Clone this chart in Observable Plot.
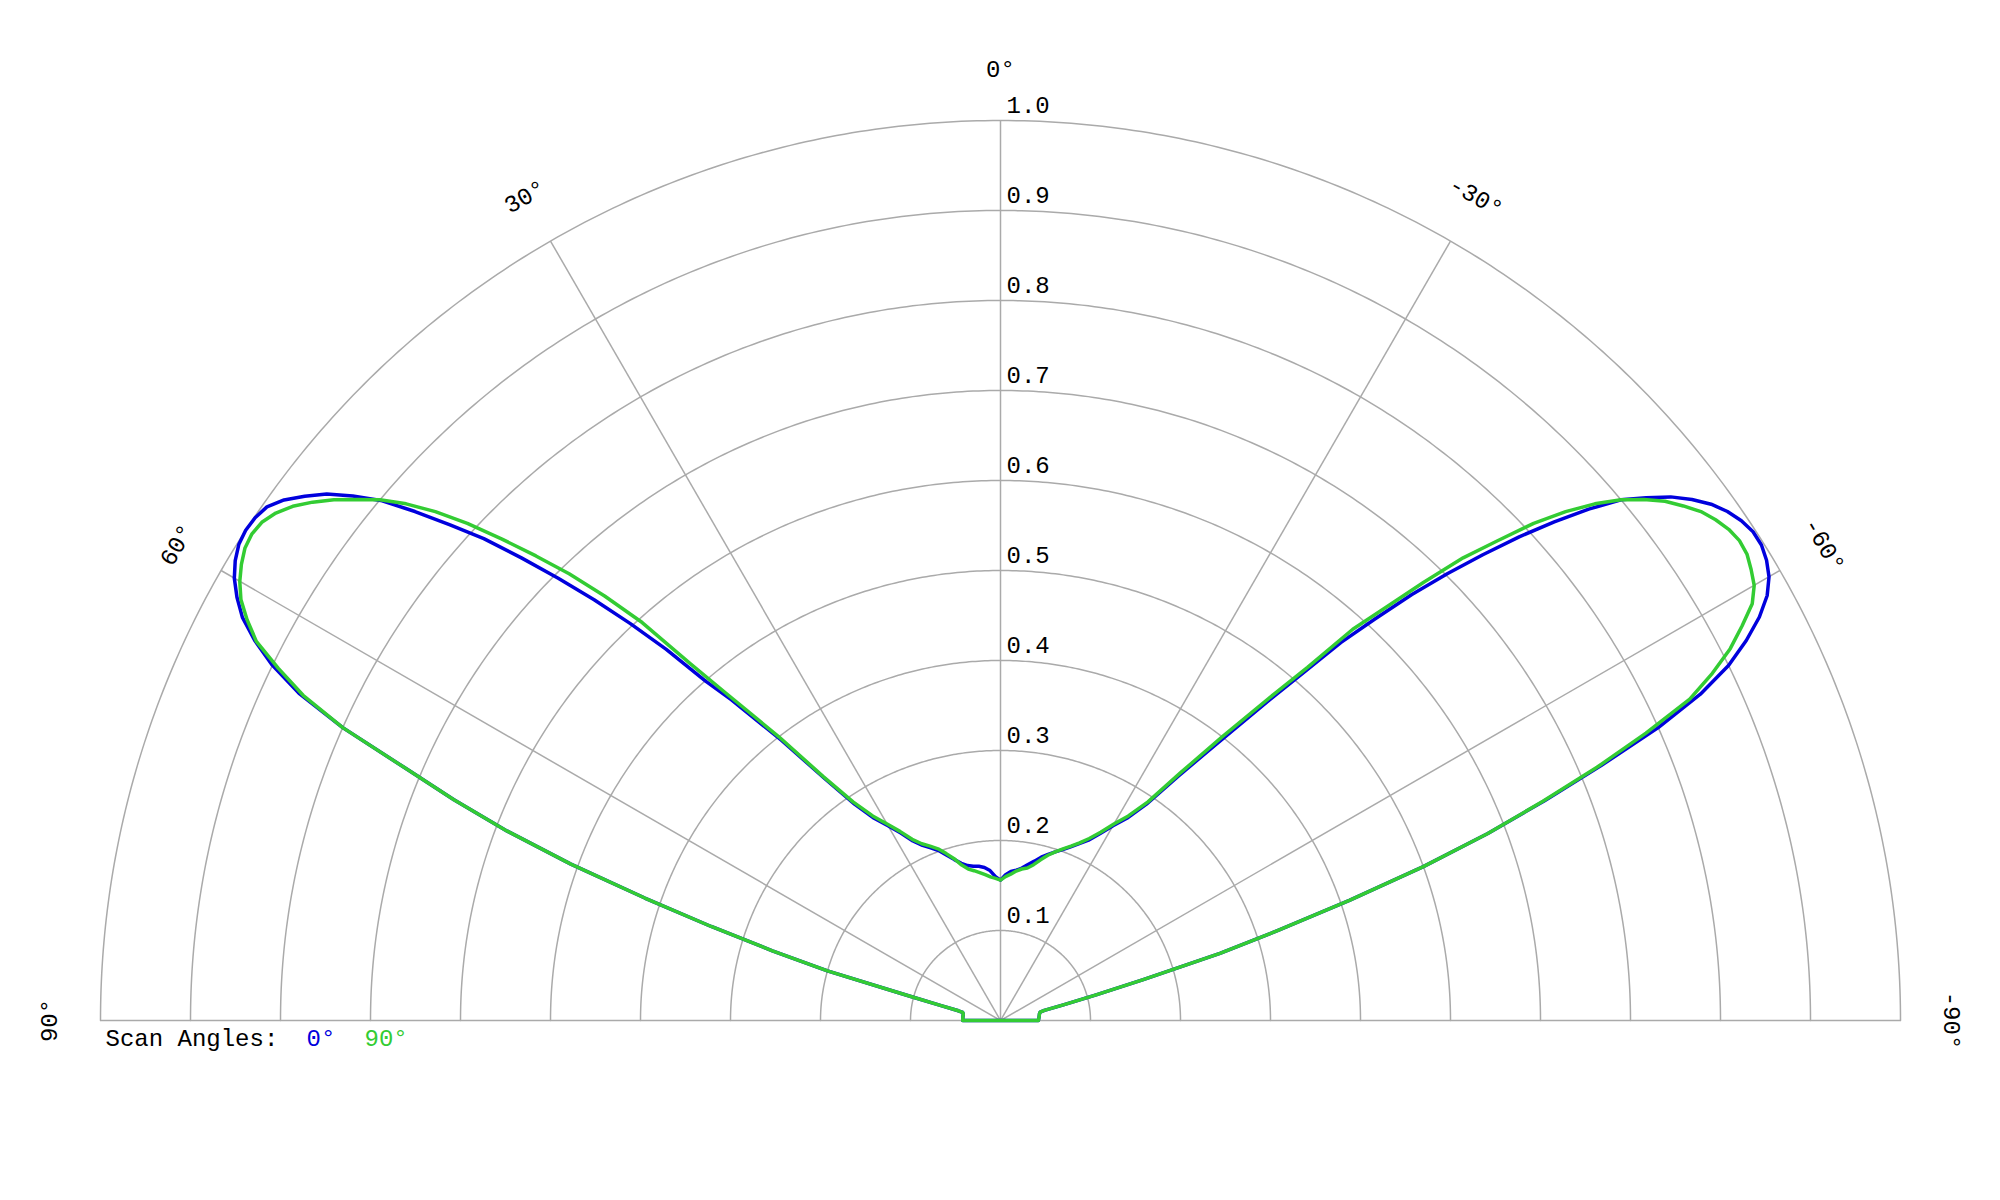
<!DOCTYPE html>
<html>
<head>
<meta charset="utf-8">
<script src="https://cdn.jsdelivr.net/npm/d3@7"></script>
<script src="https://cdn.jsdelivr.net/npm/@observablehq/plot@0.6"></script>
<style>
  body { margin: 0; background: #fff; }
  #chart svg { font-family: "Courier New", "Liberation Mono", monospace; }
</style>
</head>
<body>
<div id="chart"></div>
<script>
// angle off boresight (deg), same list used for both sides of the cut
const angles = [0, 2, 4, 6, 8, 10, 12, 14, 16, 18, 20, 22, 24, 26, 28, 30, 32, 34, 36, 38,
  40, 41, 42, 43, 44, 45, 46, 47, 48, 49, 50, 51, 52, 53, 54, 55, 56, 57, 58, 59,
  60, 61, 62, 63, 64, 65, 66, 67, 68, 69, 70, 71, 72, 73, 74, 75, 76, 77, 78, 80, 85, 90]

// scan angle 0° (blue), positive side (left) and negative side (right)
const scan0Pos = [0.156, 0.160, 0.167, 0.171, 0.173, 0.174, 0.176, 0.180, 0.186, 0.193, 0.201, 0.207, 0.213, 0.222, 0.236, 0.250, 0.265, 0.290, 0.332, 0.395,
  0.465, 0.500, 0.555, 0.603, 0.650, 0.695, 0.740, 0.785, 0.823, 0.862, 0.899, 0.926, 0.950, 0.968, 0.984, 0.995, 0.999, 1.000, 0.998, 0.992,
  0.983, 0.970, 0.954, 0.930, 0.900, 0.860, 0.800, 0.720, 0.655, 0.587, 0.508, 0.418, 0.338, 0.265, 0.200, 0.105, 0.068, 0.048, 0.043, 0.042, 0.042, 0.042]
const scan0Neg = [0.156, 0.162, 0.166, 0.168, 0.171, 0.176, 0.181, 0.187, 0.192, 0.197, 0.202, 0.208, 0.215, 0.223, 0.235, 0.250, 0.265, 0.290, 0.335, 0.390,
  0.465, 0.510, 0.565, 0.610, 0.658, 0.702, 0.745, 0.788, 0.828, 0.866, 0.900, 0.923, 0.945, 0.962, 0.976, 0.986, 0.993, 0.997, 0.997, 0.993,
  0.986, 0.974, 0.955, 0.930, 0.900, 0.858, 0.800, 0.725, 0.652, 0.580, 0.500, 0.410, 0.325, 0.255, 0.165, 0.110, 0.072, 0.050, 0.045, 0.044, 0.043, 0.042]

// scan angle 90° (green)
const scan90Pos = [0.156, 0.158, 0.160, 0.163, 0.166, 0.169, 0.172, 0.178, 0.187, 0.195, 0.203, 0.209, 0.215, 0.224, 0.238, 0.252, 0.268, 0.293, 0.335, 0.400,
  0.475, 0.525, 0.595, 0.645, 0.690, 0.730, 0.770, 0.810, 0.845, 0.875, 0.900, 0.920, 0.940, 0.957, 0.972, 0.983, 0.990, 0.992, 0.990, 0.984,
  0.976, 0.965, 0.948, 0.928, 0.893, 0.855, 0.800, 0.720, 0.655, 0.587, 0.508, 0.418, 0.338, 0.265, 0.200, 0.105, 0.068, 0.048, 0.043, 0.042, 0.042, 0.042]
const scan90Neg = [0.156, 0.160, 0.163, 0.167, 0.170, 0.172, 0.177, 0.184, 0.191, 0.197, 0.203, 0.209, 0.216, 0.225, 0.237, 0.252, 0.268, 0.293, 0.340, 0.400,
  0.475, 0.520, 0.585, 0.627, 0.677, 0.727, 0.767, 0.810, 0.845, 0.875, 0.900, 0.920, 0.937, 0.950, 0.962, 0.970, 0.976, 0.979, 0.978, 0.973,
  0.967, 0.955, 0.933, 0.910, 0.880, 0.845, 0.785, 0.720, 0.650, 0.580, 0.500, 0.410, 0.325, 0.255, 0.165, 0.110, 0.072, 0.050, 0.045, 0.044, 0.043, 0.042]

const rings = [0.1, 0.2, 0.3, 0.4, 0.5, 0.6, 0.7, 0.8, 0.9, 1.0]
const spokes = [-90, -60, -30, 0, 30, 60, 90]
const scanNames = ['0°', '90°']
const scanColors = ['#0000dd', '#33cc33']

const rad = a => a * Math.PI / 180
const px = d => -d.r * Math.sin(rad(d.a))
const py = d => d.r * Math.cos(rad(d.a))

// one closed curve per scan: from -90 through 0 to +90
function cut(pos, neg) {
  const right = angles.map((a, i) => ({a: -a, r: neg[i]})).slice(1).reverse()
  const left = angles.map((a, i) => ({a, r: pos[i]}))
  return right.concat(left)
}
const cut0 = cut(scan0Pos, scan0Neg)
const cut90 = cut(scan90Pos, scan90Neg)

const ringPts = rings.flatMap(r => d3.range(-90, 90.5, 0.5).map(a => ({a, r})))
const spokeRows = spokes.map(a => ({a, r: 1}))
const labelRows = spokes.map(a => ({a, r: 1.057, text: `${a}°`}))
const tickRows = rings.map(r => ({a: 0, r, text: r.toFixed(1)}))

const legendY = -0.0195
const chart = Plot.plot({
  width: 2000,
  height: 1200,
  marginLeft: 100,
  marginRight: 100,
  marginTop: 120,
  marginBottom: 180,
  x: {domain: [-1, 1], axis: null},
  y: {domain: [0, 1], axis: null},
  marks: [
    Plot.line(ringPts, {x: px, y: py, z: 'r', stroke: '#aaa', strokeWidth: 1.5}),
    Plot.link(spokeRows, {x1: 0, y1: 0, x2: px, y2: py, stroke: '#aaa', strokeWidth: 1.5}),
    Plot.text(tickRows, {x: px, y: py, text: 'text', textAnchor: 'start', dx: 6, dy: -15, fontSize: 24, fill: '#000'}),
    Plot.text(labelRows, {x: px, y: py, text: 'text', rotate: d => -d.a, fontSize: 24, fill: '#000'}),
    Plot.line(cut0, {x: px, y: py, stroke: scanColors[0], strokeWidth: 3.5, curve: 'linear-closed'}),
    Plot.line(cut90, {x: px, y: py, stroke: scanColors[1], strokeWidth: 3.5, curve: 'linear-closed'}),
    // legend under the baseline, monospace columns
    Plot.text(['Scan Angles:'], {x: -1, y: legendY, text: d => d, textAnchor: 'start', dx: 5, fontSize: 24, fill: '#000'}),
    Plot.text([scanNames[0]], {x: -1, y: legendY, text: d => d, textAnchor: 'start', dx: 206, fontSize: 24, fill: scanColors[0]}),
    Plot.text([scanNames[1]], {x: -1, y: legendY, text: d => d, textAnchor: 'start', dx: 264, fontSize: 24, fill: scanColors[1]}),
  ]
})

d3.select('#chart').append(() => chart)
</script>
</body>
</html>
